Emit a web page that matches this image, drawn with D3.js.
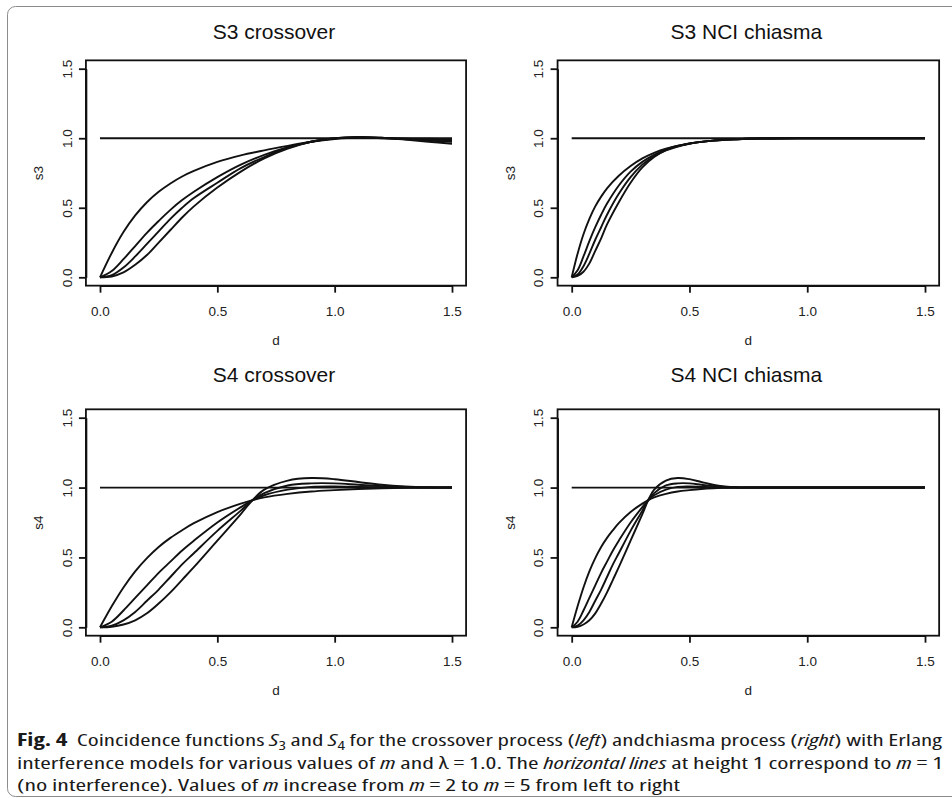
<!DOCTYPE html>
<html>
<head>
<meta charset="utf-8">
<script src="https://cdn.jsdelivr.net/npm/d3@7"></script>
<style>
body { margin: 0; background: #fff; }
svg { display: block; font-family: "Liberation Sans", Arial, Helvetica, sans-serif; }
</style>
</head>
<body>
<svg width="952" height="798"></svg>
<script>
// values, one array per curve (m = 2..5)
const xTicks = [0, 0.5, 1.0, 1.5];
const yTicks = [0, 0.5, 1.0, 1.5];
const panelTitles = ["S3 crossover", "S3 NCI chiasma", "S4 crossover", "S4 NCI chiasma"];
const yLabels = ["s3", "s3", "s4", "s4"];
const xLabel = "d";
const noInterference = 1; // m = 1

// S3 crossover
const s3CrossD  = [0, 0.05, 0.1, 0.15, 0.2, 0.25, 0.3, 0.35, 0.4, 0.5, 0.6, 0.7, 0.8, 0.9, 1.0, 1.1, 1.2, 1.3, 1.4, 1.5];
const s3CrossM2 = [0, 0.175, 0.325, 0.445, 0.54, 0.615, 0.675, 0.725, 0.765, 0.83, 0.877, 0.913, 0.945, 0.975, 0.995, 1.005, 1.0, 0.998, 0.996, 0.995];
const s3CrossM3 = [0, 0.045, 0.13, 0.225, 0.32, 0.405, 0.485, 0.555, 0.615, 0.72, 0.81, 0.88, 0.935, 0.975, 0.998, 1.005, 1.002, 0.995, 0.99, 0.985];
const s3CrossM4 = [0, 0.015, 0.07, 0.15, 0.24, 0.33, 0.42, 0.50, 0.57, 0.68, 0.785, 0.865, 0.93, 0.975, 1.0, 1.008, 1.003, 0.993, 0.984, 0.975];
const s3CrossM5 = [0, 0.006, 0.035, 0.09, 0.16, 0.25, 0.34, 0.43, 0.51, 0.645, 0.76, 0.855, 0.925, 0.975, 1.0, 1.01, 1.004, 0.99, 0.975, 0.96];

// S3 NCI chiasma
const s3ChiD  = [0, 0.025, 0.05, 0.075, 0.1, 0.125, 0.15, 0.2, 0.25, 0.3, 0.35, 0.4, 0.5, 0.6, 0.7, 0.8, 1.0, 1.5];
const s3ChiM2 = [0, 0.17, 0.31, 0.42, 0.51, 0.58, 0.64, 0.73, 0.80, 0.855, 0.895, 0.925, 0.963, 0.983, 0.993, 0.998, 1, 1];
const s3ChiM3 = [0, 0.05, 0.15, 0.26, 0.36, 0.45, 0.53, 0.66, 0.76, 0.83, 0.88, 0.92, 0.962, 0.983, 0.993, 0.998, 1, 1];
const s3ChiM4 = [0, 0.02, 0.08, 0.17, 0.27, 0.36, 0.45, 0.60, 0.72, 0.81, 0.87, 0.915, 0.961, 0.983, 0.993, 0.998, 1, 1];
const s3ChiM5 = [0, 0.01, 0.04, 0.10, 0.19, 0.28, 0.38, 0.54, 0.68, 0.79, 0.865, 0.912, 0.96, 0.983, 0.993, 0.998, 1, 1];

// S4 crossover
const s4CrossD  = [0, 0.05, 0.1, 0.15, 0.2, 0.25, 0.3, 0.35, 0.4, 0.5, 0.6, 0.65, 0.7, 0.8, 0.9, 1.0, 1.1, 1.2, 1.3, 1.4, 1.5];
const s4CrossM2 = [0, 0.15, 0.285, 0.40, 0.495, 0.575, 0.64, 0.695, 0.745, 0.825, 0.885, 0.91, 0.93, 0.955, 0.972, 0.982, 0.99, 0.995, 0.998, 1.0, 1.0];
const s4CrossM3 = [0, 0.04, 0.12, 0.21, 0.30, 0.39, 0.47, 0.55, 0.62, 0.75, 0.86, 0.91, 0.945, 0.985, 1.005, 1.008, 1.005, 1.002, 1.001, 1.0, 1.0];
const s4CrossM4 = [0, 0.012, 0.05, 0.11, 0.19, 0.27, 0.36, 0.45, 0.53, 0.69, 0.835, 0.91, 0.96, 1.015, 1.03, 1.03, 1.02, 1.01, 1.004, 1.001, 1.0];
const s4CrossM5 = [0, 0.004, 0.02, 0.05, 0.10, 0.17, 0.25, 0.34, 0.43, 0.62, 0.81, 0.91, 0.985, 1.05, 1.068, 1.06, 1.04, 1.02, 1.008, 1.002, 1.0];

// S4 NCI chiasma
const s4ChiD  = [0, 0.025, 0.05, 0.075, 0.1, 0.125, 0.15, 0.175, 0.2, 0.25, 0.3, 0.325, 0.35, 0.4, 0.45, 0.5, 0.55, 0.6, 0.65, 0.7, 0.75, 1.0, 1.5];
const s4ChiM2 = [0, 0.15, 0.285, 0.40, 0.495, 0.575, 0.64, 0.695, 0.745, 0.825, 0.885, 0.91, 0.93, 0.955, 0.972, 0.982, 0.99, 0.995, 0.998, 1.0, 1.0, 1.0, 1.0];
const s4ChiM3 = [0, 0.04, 0.12, 0.21, 0.30, 0.39, 0.47, 0.55, 0.62, 0.75, 0.86, 0.91, 0.945, 0.985, 1.005, 1.008, 1.005, 1.002, 1.001, 1.0, 1.0, 1.0, 1.0];
const s4ChiM4 = [0, 0.012, 0.05, 0.11, 0.19, 0.27, 0.36, 0.45, 0.53, 0.69, 0.835, 0.91, 0.96, 1.015, 1.03, 1.03, 1.02, 1.01, 1.004, 1.001, 1.0, 1.0, 1.0];
const s4ChiM5 = [0, 0.004, 0.02, 0.05, 0.10, 0.17, 0.25, 0.34, 0.43, 0.62, 0.81, 0.91, 0.985, 1.05, 1.068, 1.06, 1.04, 1.02, 1.008, 1.002, 1.0, 1.0, 1.0];

const captionLines = [
    [["Fig. 4", "b"], ["  Coincidence functions "], ["S", "i"], ["3", "sub"], [" and "], ["S", "i"], ["4", "sub"],
     [" for the crossover process ("], ["left", "i"], [") andchiasma process ("], ["right", "i"], [") with Erlang"]],
    [["interference models for various values of "], ["m", "i"], [" and \u03bb = 1.0. The "], ["horizontal lines", "i"],
     [" at height 1 correspond to "], ["m", "i"], [" = 1"]],
    [["(no interference). Values of "], ["m", "i"], [" increase from "], ["m", "i"], [" = 2 to "], ["m", "i"],
     [" = 5 from left to right"]]
];

var svg = d3.select("svg");

// outer frame of the figure
svg.append("rect")
    .attr("x", 7.5).attr("y", 6.5)
    .attr("width", 960).attr("height", 790)
    .attr("rx", 8)
    .attr("fill", "none")
    .attr("stroke", "#8c8c8c")
    .attr("stroke-width", 1);

var panels = [
    {d: s3CrossD, series: [s3CrossM2, s3CrossM3, s3CrossM4, s3CrossM5], x0: 100, x1: 452, y0: 277.3, y1: 68.7, titleY: 39},
    {d: s3ChiD, series: [s3ChiM2, s3ChiM3, s3ChiM4, s3ChiM5], x0: 571.7, x1: 925, y0: 277.3, y1: 68.7, titleY: 39},
    {d: s4CrossD, series: [s4CrossM2, s4CrossM3, s4CrossM4, s4CrossM5], x0: 100, x1: 452, y0: 627.3, y1: 417.7, titleY: 382},
    {d: s4ChiD, series: [s4ChiM2, s4ChiM3, s4ChiM4, s4ChiM5], x0: 571.7, x1: 925, y0: 627.3, y1: 417.7, titleY: 382}
];

const ink = "#111";
const lw = 1.8;

panels.forEach((p, i) => {
    var x = d3.scaleLinear().domain([0, 1.5]).range([p.x0, p.x1]);
    var y = d3.scaleLinear().domain([0, 1.5]).range([p.y0, p.y1]);
    var g = svg.append("g");

    var bx0 = x(-0.06), bx1 = x(1.56), by0 = y(-0.06), by1 = y(1.56);

    // axes
    var xAxis = d3.axisBottom(x).tickValues(xTicks).tickSize(7).tickSizeOuter(0)
        .tickPadding(14).tickFormat(d3.format(".1f"));
    var yAxis = d3.axisLeft(y).tickValues(yTicks).tickSize(7).tickSizeOuter(0)
        .tickFormat(d3.format(".1f"));

    var gx = g.append("g").attr("transform", "translate(0," + by0 + ")").call(xAxis);
    var gy = g.append("g").attr("transform", "translate(" + bx0 + ",0)").call(yAxis);

    [gx, gy].forEach(a => {
        a.attr("font-family", null).attr("font-size", null);
        a.selectAll("path, line").attr("stroke", ink).attr("stroke-width", lw);
        a.selectAll("text").attr("fill", "#222").style("font-size", "13.5px");
    });
    gy.selectAll("text")
        .attr("transform", "rotate(-90)")
        .attr("x", 0).attr("y", -19).attr("dy", "0.36em")
        .attr("text-anchor", "middle");

    // box
    g.append("rect")
        .attr("x", bx0).attr("y", by1)
        .attr("width", bx1 - bx0).attr("height", by0 - by1)
        .attr("fill", "none").attr("stroke", ink).attr("stroke-width", lw);

    // labels
    g.append("text")
        .attr("x", (bx0 + bx1) / 2 - 2).attr("y", p.titleY)
        .attr("text-anchor", "middle").style("font-size", "21px").attr("fill", "#111")
        .text(panelTitles[i]);
    g.append("text")
        .attr("x", (bx0 + bx1) / 2).attr("y", by0 + 59)
        .attr("text-anchor", "middle").style("font-size", "13.5px").attr("fill", "#222")
        .text(xLabel);
    g.append("text")
        .attr("transform", "translate(" + (bx0 - 47.5) + "," + ((by0 + by1) / 2) + ") rotate(-90)")
        .attr("dy", "0.36em")
        .attr("text-anchor", "middle").style("font-size", "13.5px").attr("fill", "#222")
        .text(yLabels[i]);

    var line = d3.line()
        .x(v => x(v[0])).y(v => y(v[1]))
        .curve(d3.curveCatmullRom.alpha(0.5));

    // m = 1 reference line
    g.append("path")
        .attr("d", line([[0, noInterference], [1.5, noInterference]]))
        .attr("fill", "none").attr("stroke", ink).attr("stroke-width", lw);

    g.selectAll("path.curve")
        .data(p.series)
        .enter().append("path")
        .attr("class", "curve")
        .attr("d", s => line(p.d.map((dv, k) => [dv, s[k]])))
        .attr("fill", "none").attr("stroke", ink).attr("stroke-width", 1.9)
        .attr("stroke-linejoin", "round");
});

// caption
var lineY = [746, 769, 791];
var lineLen = [925, 926, 663];
captionLines.forEach((parts, li) => {
    var t = svg.append("text")
        .attr("x", 17).attr("y", lineY[li])
        .attr("textLength", lineLen[li])
        .attr("lengthAdjust", "spacingAndGlyphs")
        .style("white-space", "pre")
        .style("font-family", "'Open Sans', 'Noto Sans', sans-serif")
        .style("font-stretch", "85%")
        .style("font-size", "17px")
        .attr("fill", "#1a1a1a");
    var shifted = false;
    parts.forEach(part => {
        var ts = t.append("tspan").text(part[0]);
        var dy = 0;
        if (shifted) { dy -= 3.5; shifted = false; }
        if (part[1] === "b") ts.style("font-weight", "bold");
        if (part[1] === "i") ts.style("font-style", "italic");
        if (part[1] === "sub") { ts.style("font-size", "12px"); dy += 3.5; shifted = true; }
        if (dy !== 0) ts.attr("dy", dy);
    });
});
</script>
</body>
</html>
